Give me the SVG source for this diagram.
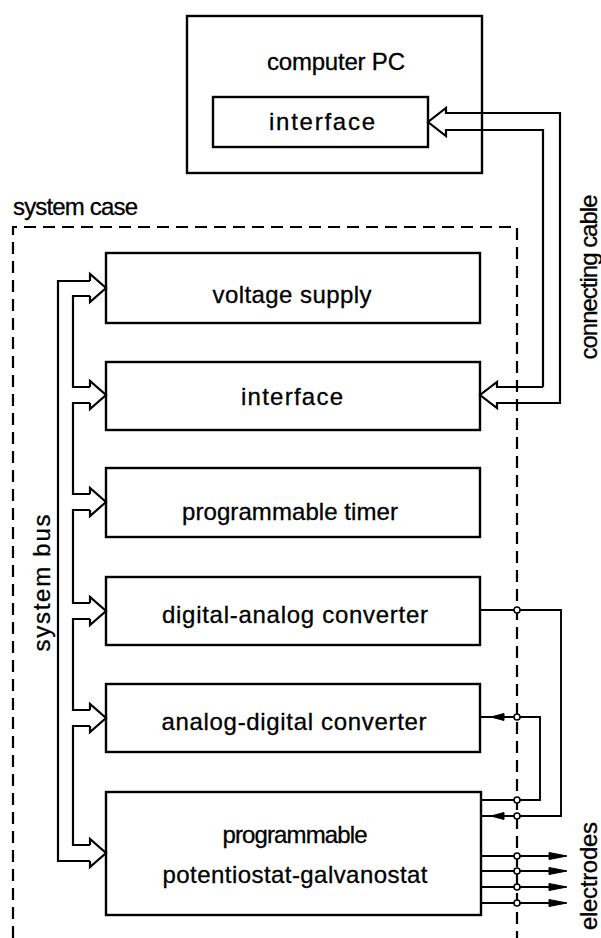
<svg xmlns="http://www.w3.org/2000/svg" width="601" height="938" viewBox="0 0 601 938">
  <style>
    .box { fill: #fff; stroke: #000; stroke-width: 2.4; }
    .wire { fill: none; stroke: #000; stroke-width: 2.2; stroke-linejoin: miter; }
    .sig { fill: none; stroke: #000; stroke-width: 1.9; }
    .dash { fill: none; stroke: #000; stroke-width: 2.2; stroke-dasharray: 12 7; }
    .node { fill: #fff; stroke: #000; stroke-width: 1.6; }
    .head { fill: #000; stroke: #000; stroke-width: 1; }
    text { font-family: "Liberation Sans", Arial, sans-serif; font-size: 24px; fill: #000; stroke: #000; stroke-width: 0.3; }
    .mid { text-anchor: middle; }
  </style>

  <!-- host computer with its interface card -->
  <g id="computer-pc">
    <rect class="box" x="187" y="16" width="295" height="157"/>
    <text class="mid" x="336" y="70" textLength="138" lengthAdjust="spacing">computer PC</text>
  </g>
  <g id="pc-interface">
    <rect class="box" x="213" y="97" width="215" height="50"/>
    <text class="mid" x="322" y="130" textLength="106" lengthAdjust="spacing">interface</text>
  </g>

  <!-- system case outline (open at the bottom) -->
  <g id="system-case">
    <path class="dash" d="M13,938 L13,227 L517,227 L517,938"/>
    <text x="13" y="215" textLength="125" lengthAdjust="spacing">system case</text>
  </g>

  <!-- plug-in modules -->
  <g id="voltage-supply">
    <rect class="box" x="106" y="253" width="374" height="70"/>
    <text class="mid" x="292" y="303" textLength="159" lengthAdjust="spacing">voltage supply</text>
  </g>
  <g id="interface">
    <rect class="box" x="106" y="362" width="374" height="68"/>
    <text class="mid" x="292" y="405" textLength="102" lengthAdjust="spacing">interface</text>
  </g>
  <g id="programmable-timer">
    <rect class="box" x="106" y="468" width="374" height="69"/>
    <text class="mid" x="290" y="520" textLength="216" lengthAdjust="spacing">programmable timer</text>
  </g>
  <g id="dac">
    <rect class="box" x="106" y="577" width="374" height="68"/>
    <text class="mid" x="295" y="623" textLength="266" lengthAdjust="spacing">digital-analog converter</text>
  </g>
  <g id="adc">
    <rect class="box" x="106" y="684" width="374" height="68"/>
    <text class="mid" x="294" y="730" textLength="265" lengthAdjust="spacing">analog-digital converter</text>
  </g>
  <g id="potentiostat">
    <rect class="box" x="106" y="792" width="375" height="123"/>
    <text class="mid" x="295" y="843" textLength="145" lengthAdjust="spacing">programmable</text>
    <text class="mid" x="295" y="883" textLength="265" lengthAdjust="spacing">potentiostat-galvanostat</text>
  </g>

  <!-- side labels -->
  <g id="labels">
    <text class="mid" transform="translate(50,583) rotate(-90)" textLength="137" lengthAdjust="spacing">system bus</text>
    <text class="mid" transform="translate(597,277) rotate(-90)" textLength="165" lengthAdjust="spacing">connecting cable</text>
    <text class="mid" transform="translate(597,876) rotate(-90)" textLength="108" lengthAdjust="spacing">electrodes</text>
  </g>

  <g id="connectors">
    <!-- connecting cable: double-line arrow between the two interfaces -->
    <path class="wire" d="M543,387 L543,130 L446,130 L446,136 L428,122 L446,108 L446,113 L560,113 L560,403 L497,403 L497,408 L480,395 L497,382 L497,387 L543,387"/>

    <!-- system bus: outer rail -->
    <path class="wire" d="M90,281 L58,281 L58,861 L90,861"/>
    <!-- system bus: inner rail, broken at each module tap -->
    <path class="wire" d="M90,296 L73,296 L73,387 L90,387 M90,403 L73,403 L73,494 L90,494 M90,510 L73,510 L73,603 L90,603 M90,619 L73,619 L73,710 L90,710 M90,726 L73,726 L73,845 L90,845"/>
    <!-- bus taps -->
    <path class="wire" d="M90,281 L90,274 L106,288 L90,302 L90,296"/>
    <path class="wire" d="M90,387 L90,381 L106,395 L90,409 L90,403"/>
    <path class="wire" d="M90,494 L90,488 L106,502 L90,516 L90,510"/>
    <path class="wire" d="M90,603 L90,597 L106,611 L90,625 L90,619"/>
    <path class="wire" d="M90,710 L90,704 L106,718 L90,732 L90,726"/>
    <path class="wire" d="M90,845 L90,839 L106,853 L90,867 L90,861"/>

    <!-- DAC output to potentiostat -->
    <path class="sig" d="M480,610 L561,610 L561,816 L481,816"/>
    <!-- potentiostat output to ADC -->
    <path class="sig" d="M481,800 L540,800 L540,717 L480,717"/>
    <polygon class="head" points="491,717 504,713.5 504,720.5"/>
    <polygon class="head" points="491,816 504,812.5 504,819.5"/>

    <!-- electrode leads -->
    <path class="sig" d="M481,856 L566,856 M481,871 L566,871 M481,887 L566,887 M481,903 L566,903"/>
    <polygon class="head" points="567,856 549,852.5 549,859.5"/>
    <polygon class="head" points="567,871 549,867.5 549,874.5"/>
    <polygon class="head" points="567,887 549,883.5 549,890.5"/>
    <polygon class="head" points="567,903 549,899.5 549,906.5"/>

    <!-- feed-through points on the case wall -->
    <circle class="node" cx="517" cy="610" r="3"/>
    <circle class="node" cx="517" cy="717" r="3"/>
    <circle class="node" cx="517" cy="800" r="3"/>
    <circle class="node" cx="517" cy="816" r="3"/>
    <circle class="node" cx="517" cy="856" r="3"/>
    <circle class="node" cx="517" cy="871" r="3"/>
    <circle class="node" cx="517" cy="887" r="3"/>
    <circle class="node" cx="517" cy="903" r="3"/>
  </g>
</svg>
